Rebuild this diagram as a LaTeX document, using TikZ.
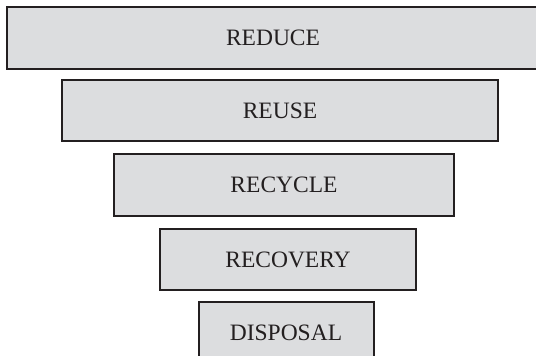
\documentclass[tikz,border=0pt]{standalone}
\usepackage{fontspec}
\setmainfont{Liberation Serif}
\usepackage{tikz}
\usetikzlibrary{positioning}
\definecolor{tierfill}{HTML}{DCDDDF}
\definecolor{tierline}{HTML}{231F20}
\definecolor{textdark}{HTML}{231F20}
\tikzset{
  tier/.style={
    rectangle, draw=tierline, line width=1pt, fill=tierfill,
    minimum height=30.75pt, inner sep=0pt, align=center,
    font=\fontsize{11.75}{14}\selectfont, text=textdark
  }
}

\begin{document}
\begin{tikzpicture}[node distance=5pt]
\useasboundingbox (0,0) rectangle (268pt,-177.5pt);
\node[tier, minimum width=266pt] (reduce) at (136.5pt,-19pt) {REDUCE};
\node[tier, minimum width=218pt, below=4.5pt of reduce, xshift=3.5pt] (reuse) {REUSE};
\node[tier, minimum width=170pt, below=5.5pt of reuse, xshift=2pt] (recycle) {RECYCLE};
\node[tier, minimum width=128pt, below=5.5pt of recycle, xshift=2pt] (recovery) {RECOVERY};
\node[tier, minimum width=87.5pt, below=of recovery, xshift=-1pt] (disposal) {DISPOSAL};
\end{tikzpicture}
\end{document}
